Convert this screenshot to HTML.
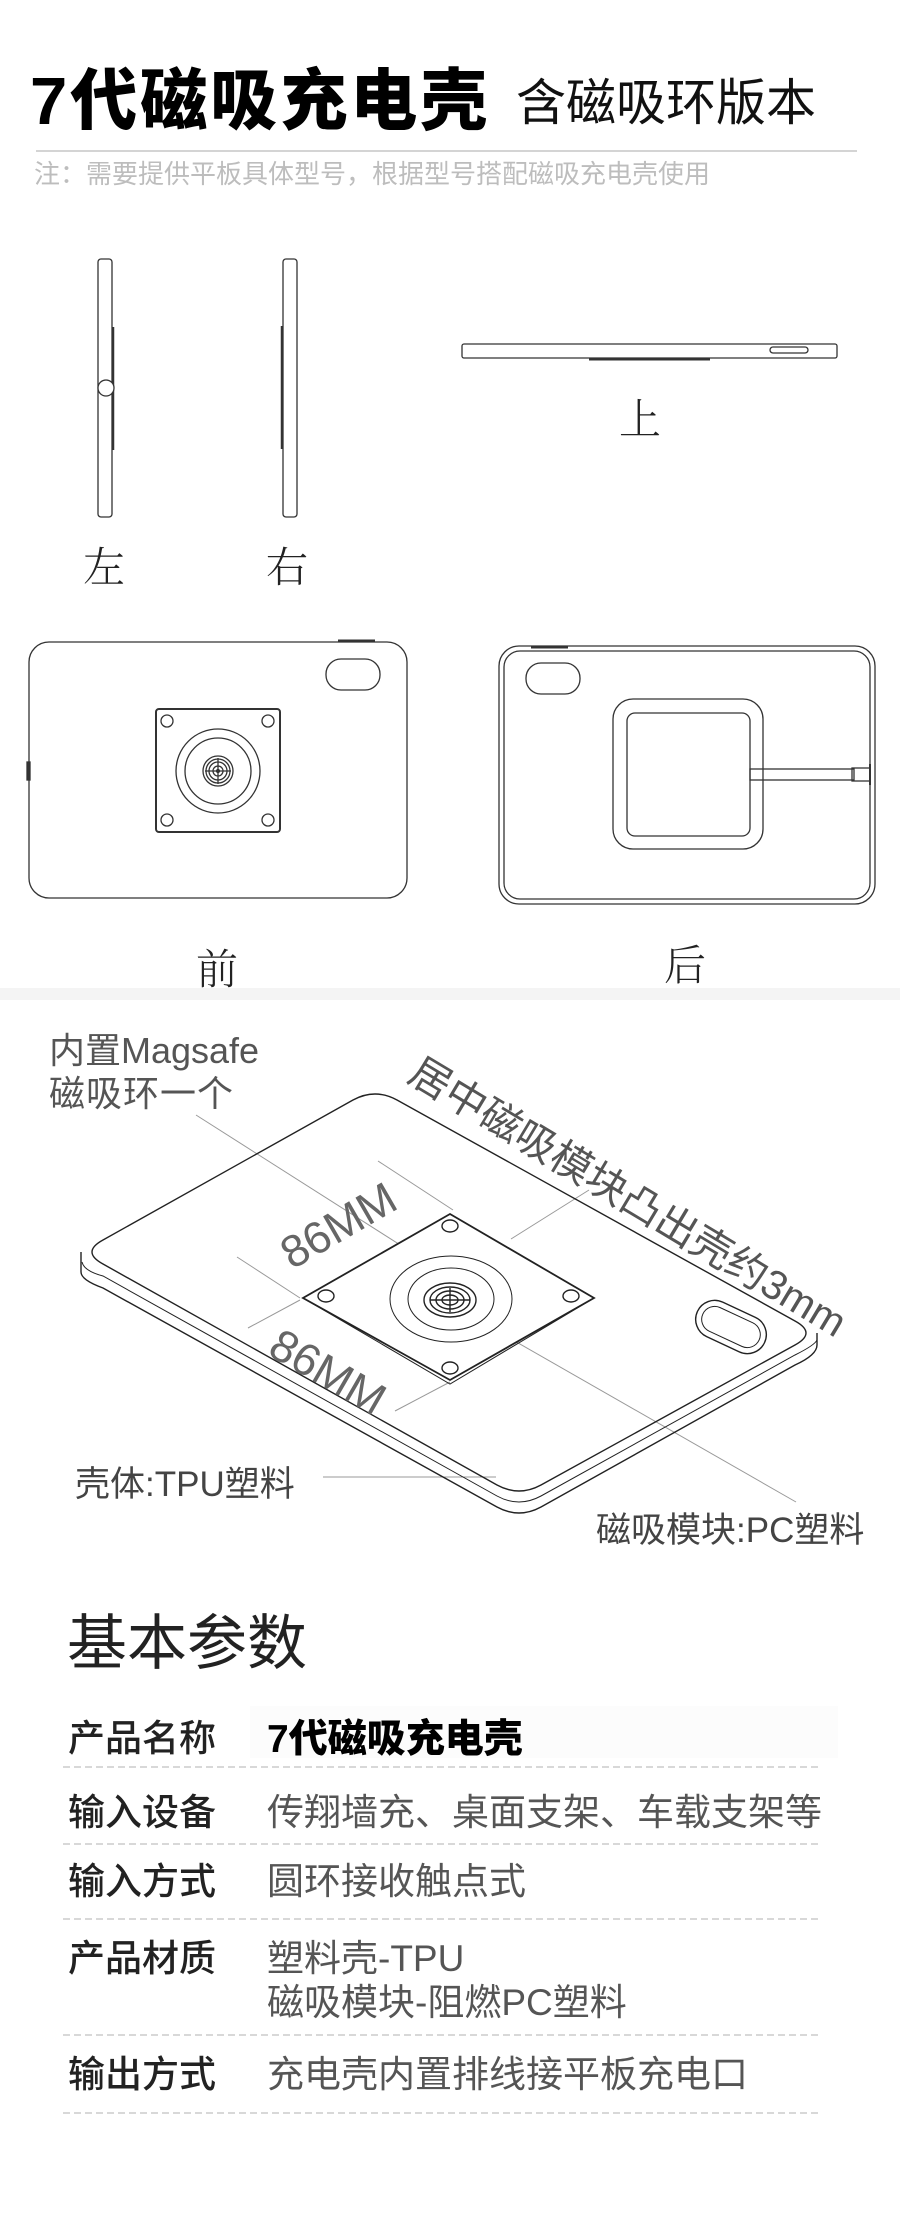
<!DOCTYPE html>
<html><head><meta charset="utf-8"><style>
html,body{margin:0;padding:0;background:#fff;}
svg{display:block;}
text{font-family:"Liberation Sans","Noto Sans CJK SC",sans-serif;}
.hw{font-family:"Noto Serif CJK SC","Liberation Serif",serif;font-weight:300;fill:#222;}
</style></head><body>
<svg width="900" height="2226" viewBox="0 0 900 2226" xmlns="http://www.w3.org/2000/svg">
<rect width="900" height="2226" fill="#fff"/>
<rect x="0" y="988" width="900" height="12" fill="#f4f4f4"/>
<!-- header -->
<text x="30" y="124" font-size="67" font-weight="900" fill="#000" letter-spacing="3">7代磁吸充电壳</text>
<text x="516" y="120" font-size="50" fill="#111">含磁吸环版本</text>
<line x1="36" y1="151" x2="857" y2="151" stroke="#bbb" stroke-width="1.2"/>
<text x="34" y="183" font-size="26" fill="#bdbdbd">注：需要提供平板具体型号，根据型号搭配磁吸充电壳使用</text>

<g fill="none" stroke="#333" stroke-width="1.3">
<rect x="98" y="259" width="14" height="258" rx="3"/>
<line x1="113" y1="327" x2="113" y2="450" stroke-width="2.5"/>
<circle cx="106" cy="388" r="8" fill="#fff"/>
<rect x="283" y="259" width="14" height="258" rx="3"/>
<line x1="282" y1="326" x2="282" y2="449" stroke-width="2.5"/>
<rect x="462" y="344" width="375" height="14" rx="2"/>
<line x1="589" y1="359" x2="710" y2="359" stroke-width="3"/>
<rect x="770" y="347" width="38" height="6" rx="3"/>

<rect x="29" y="642" width="378" height="256" rx="20"/>
<line x1="338" y1="641" x2="375" y2="641" stroke-width="3"/>
<rect x="27" y="762" width="3" height="18" fill="#333"/>
<rect x="326" y="659" width="54" height="31" rx="15"/>
<rect x="156" y="709" width="124" height="123" rx="3" stroke-width="2"/>
<circle cx="167" cy="721" r="6"/><circle cx="268" cy="721" r="6"/>
<circle cx="167" cy="820" r="6"/><circle cx="268" cy="820" r="6"/>
<circle cx="218" cy="771" r="42"/><circle cx="218" cy="771" r="33"/>
<circle cx="218" cy="771" r="15"/><circle cx="218" cy="771" r="12"/><circle cx="218" cy="771" r="9"/><circle cx="218" cy="771" r="5"/><circle cx="218" cy="771" r="1.5" fill="#333"/>
<line x1="218" y1="758" x2="218" y2="784"/><line x1="205" y1="771" x2="231" y2="771"/>

<rect x="499" y="646" width="376" height="258" rx="20"/>
<rect x="504" y="651" width="366" height="248" rx="16"/>
<line x1="531" y1="647" x2="568" y2="647" stroke-width="3"/>
<rect x="526" y="663" width="54" height="31" rx="15"/>
<rect x="613" y="699" width="150" height="150" rx="20"/>
<rect x="627" y="713" width="123" height="123" rx="8"/>
<rect x="750" y="769" width="104" height="11"/>
<rect x="852" y="768" width="18" height="13"/>
<line x1="870" y1="764" x2="870" y2="785" stroke-width="2"/>
</g>
<text class="hw" x="83" y="582" font-size="42">左</text>
<text class="hw" x="266" y="582" font-size="42">右</text>
<text class="hw" x="619" y="434" font-size="42">上</text>
<text class="hw" x="196" y="984" font-size="42">前</text>
<text class="hw" x="664" y="980" font-size="42">后</text>

<g fill="none" stroke="#999" stroke-width="1">
<line x1="196" y1="1115" x2="427" y2="1262"/>
<line x1="378" y1="1161" x2="453" y2="1210"/>
<line x1="589" y1="1190" x2="511" y2="1239"/>
<line x1="237" y1="1257" x2="300" y2="1298"/>
<line x1="300" y1="1300" x2="248" y2="1328"/>
<line x1="450" y1="1382" x2="395" y2="1411"/>
<line x1="499" y1="1332" x2="796" y2="1502"/>
<line x1="323" y1="1477" x2="496" y2="1477"/>
</g>
<g fill="none" stroke="#222" stroke-width="1.4">
<path d="M397,1100 L795,1321 Q817,1333 795,1345 L541,1485 Q519,1497 497,1485 L103,1264 Q81,1252 103,1240 L353,1100 Q375,1088 397,1100 Z"/>
<path d="M81,1252 L81,1272 Q81,1280 103,1288 L497,1507 Q519,1519 541,1507 L795,1365 Q817,1355 817,1345 L817,1333"/>
<path d="M82,1262 Q84,1271 103,1276 L497,1496 Q519,1508 541,1496 L795,1355 Q815,1345 817,1340" stroke-width="1"/>
<path d="M450,1218 L594,1298 L450,1384 L303,1298" stroke-width="1"/>
<path d="M450,1214 L594,1298 L450,1380 L303,1298 Z" fill="#fff" stroke-width="1.8"/>
<ellipse cx="450" cy="1226" rx="8" ry="6"/><ellipse cx="326" cy="1296" rx="8" ry="6"/>
<ellipse cx="571" cy="1296" rx="8" ry="6"/><ellipse cx="450" cy="1368" rx="8" ry="6"/>
<ellipse cx="451" cy="1299" rx="61" ry="43" stroke-width="1"/>
<ellipse cx="451" cy="1299" rx="43" ry="31" stroke-width="1"/>
<ellipse cx="450" cy="1300" rx="26" ry="17"/>
<ellipse cx="450" cy="1300" rx="20" ry="13"/>
<ellipse cx="450" cy="1300" rx="14" ry="9"/>
<ellipse cx="450" cy="1300" rx="8" ry="5"/>
<line x1="450" y1="1288" x2="450" y2="1312"/><line x1="430" y1="1300" x2="470" y2="1300"/>
<g transform="translate(731,1327) rotate(25)">
<rect x="-37" y="-19" width="74" height="38" rx="19"/>
<rect x="-31" y="-13" width="62" height="26" rx="13" stroke-width="1"/>
</g>
</g>
<text x="49" y="1063" font-size="36" fill="#555">内置Magsafe</text>
<text x="49" y="1106" font-size="36" fill="#555" letter-spacing="1">磁吸环一个</text>
<text transform="translate(406,1080) rotate(31)" font-size="41" fill="#555">居中磁吸模块凸出壳约3mm</text>
<text transform="translate(292,1270) rotate(-30)" font-size="45" fill="#666">86MM</text>
<text transform="translate(266,1354) rotate(30)" font-size="45" fill="#666">86MM</text>
<text x="75" y="1496" font-size="35" fill="#444">壳体:TPU塑料</text>
<text x="596" y="1542" font-size="35" fill="#444">磁吸模块:PC塑料</text>

<text x="67" y="1664" font-size="60" fill="#222">基本参数</text>
<rect x="250" y="1706" width="588" height="52" fill="#fcfcfc"/>
<g font-size="37">
<text x="68" y="1751" fill="#222" font-weight="500">产品名称</text>
<text x="267" y="1752" fill="#000" font-weight="900" font-size="39">7代磁吸充电壳</text>
<text x="68" y="1825" fill="#222" font-weight="500">输入设备</text>
<text x="267" y="1825" fill="#555">传翔墙充、桌面支架、车载支架等</text>
<text x="68" y="1894" fill="#222" font-weight="500">输入方式</text>
<text x="267" y="1894" fill="#555">圆环接收触点式</text>
<text x="68" y="1971" fill="#222" font-weight="500">产品材质</text>
<text x="267" y="1971" fill="#555">塑料壳-TPU</text>
<text x="267" y="2015" fill="#555">磁吸模块-阻燃PC塑料</text>
<text x="68" y="2087" fill="#222" font-weight="500">输出方式</text>
<text x="267" y="2087" fill="#555">充电壳内置排线接平板充电口</text>
</g>
<g stroke="#ccc" stroke-width="1.5" stroke-dasharray="7,4">
<line x1="63" y1="1767" x2="819" y2="1767"/>
<line x1="63" y1="1844" x2="819" y2="1844"/>
<line x1="63" y1="1919" x2="819" y2="1919"/>
<line x1="63" y1="2035" x2="819" y2="2035"/>
<line x1="63" y1="2113" x2="819" y2="2113"/>
</g>
</svg>
</body></html>
